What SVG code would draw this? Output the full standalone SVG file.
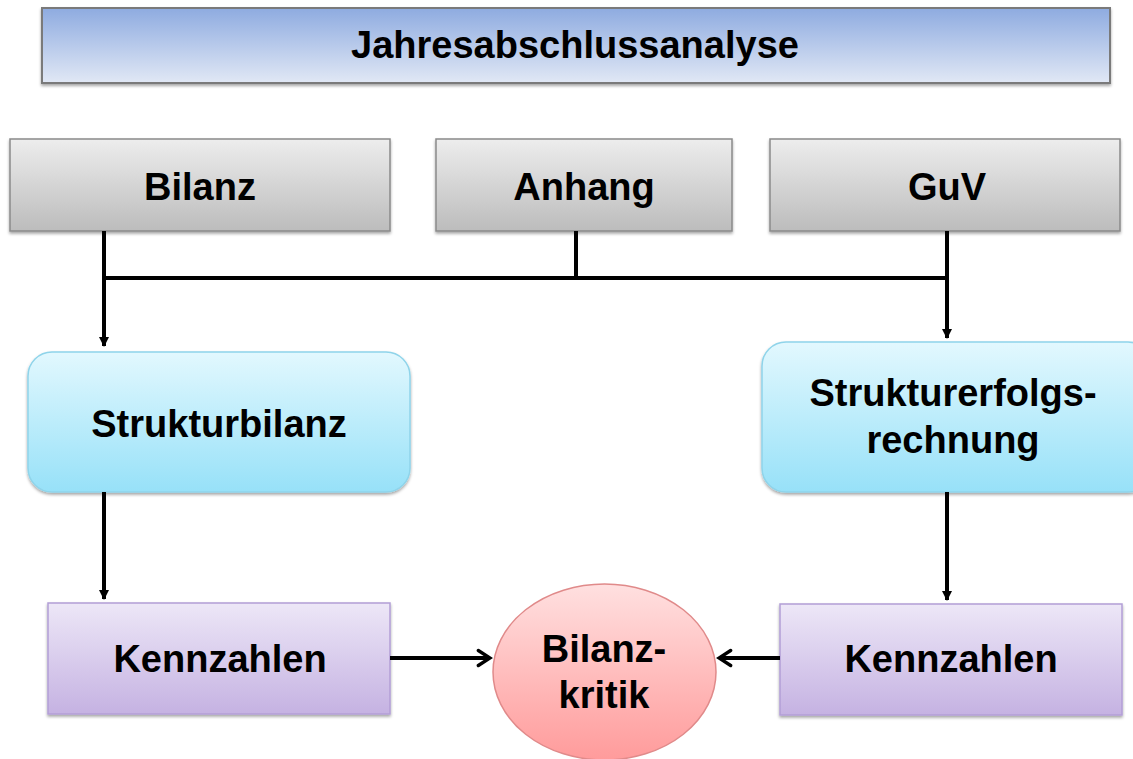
<svg xmlns="http://www.w3.org/2000/svg" width="1133" height="759" viewBox="0 0 1133 759">
<defs>
<linearGradient id="gTitle" x1="0" y1="0" x2="0" y2="1"><stop offset="0" stop-color="#8eabe0"/><stop offset="1" stop-color="#e1e8f5"/></linearGradient>
<linearGradient id="gGray" x1="0" y1="0" x2="0" y2="1"><stop offset="0" stop-color="#ededed"/><stop offset="1" stop-color="#bcbcbc"/></linearGradient>
<linearGradient id="gCyan" x1="0" y1="0" x2="0" y2="1"><stop offset="0" stop-color="#e2f8fe"/><stop offset="1" stop-color="#97e1f8"/></linearGradient>
<linearGradient id="gPurple" x1="0" y1="0" x2="0" y2="1"><stop offset="0" stop-color="#ede7f7"/><stop offset="1" stop-color="#c5b2e2"/></linearGradient>
<linearGradient id="gRed" x1="0" y1="0" x2="0" y2="1"><stop offset="0" stop-color="#ffe0e0"/><stop offset="1" stop-color="#ff9b9b"/></linearGradient>
<filter id="sh" x="-10%" y="-10%" width="120%" height="130%"><feDropShadow dx="0" dy="2" stdDeviation="1.5" flood-color="#000" flood-opacity="0.35"/></filter>
<marker id="ah" viewBox="0 0 12 12" refX="10" refY="6" markerWidth="5" markerHeight="5" orient="auto" markerUnits="strokeWidth">
<path d="M3,1.5 L10,6 L3,10.5" fill="none" stroke="#000" stroke-width="2" stroke-linecap="round" stroke-linejoin="miter"/>
</marker>
<marker id="ahs" viewBox="0 0 12 12" refX="10" refY="6" markerWidth="3" markerHeight="3" orient="auto" markerUnits="strokeWidth">
<path d="M1,1 L11,6 L1,11 Z" fill="#000"/>
</marker>
</defs>
<style>
text{font-family:"Liberation Sans",Arial,sans-serif;font-weight:bold;font-size:38px;fill:#000;text-anchor:middle}
.conn{stroke:#000;stroke-width:4;fill:none}
</style>

<g id="title"><rect x="42" y="8" width="1068" height="75" fill="url(#gTitle)" stroke="#7a7a7a" stroke-width="2" filter="url(#sh)"/><text x="575" y="58">Jahresabschlussanalyse</text></g>

<g id="bilanz"><rect x="10" y="139" width="380" height="92" fill="url(#gGray)" stroke="#8a8a8a" stroke-width="1.5" filter="url(#sh)"/><text x="200" y="200">Bilanz</text></g>
<g id="anhang"><rect x="436" y="139" width="296" height="92" fill="url(#gGray)" stroke="#8a8a8a" stroke-width="1.5" filter="url(#sh)"/><text x="584" y="200">Anhang</text></g>
<g id="guv"><rect x="770" y="139" width="350" height="92" fill="url(#gGray)" stroke="#8a8a8a" stroke-width="1.5" filter="url(#sh)"/><text x="947" y="200">GuV</text></g>

<g id="strukturbilanz"><rect x="28" y="352" width="382" height="140" rx="24" fill="url(#gCyan)" stroke="#8fd4ea" stroke-width="1.5" filter="url(#sh)"/><text x="219" y="437">Strukturbilanz</text></g>
<g id="strukturerfolgsrechnung"><rect x="762" y="342" width="390" height="150" rx="24" fill="url(#gCyan)" stroke="#8fd4ea" stroke-width="1.5" filter="url(#sh)"/><text x="953" y="406">Strukturerfolgs-</text><text x="953" y="453">rechnung</text></g>

<g id="kennzahlen-links"><rect x="48" y="603" width="342" height="111" fill="url(#gPurple)" stroke="#b39ed6" stroke-width="1.5" filter="url(#sh)"/><text x="220" y="672">Kennzahlen</text></g>
<g id="kennzahlen-rechts"><rect x="780" y="604" width="342" height="111" fill="url(#gPurple)" stroke="#b39ed6" stroke-width="1.5" filter="url(#sh)"/><text x="951" y="672">Kennzahlen</text></g>

<g id="bilanzkritik"><ellipse cx="604.5" cy="672" rx="111.5" ry="88" fill="url(#gRed)" stroke="#e08a8a" stroke-width="1.5"/><text x="604" y="662">Bilanz-</text><text x="604" y="708">kritik</text></g>

<g id="connectors">
<path class="conn" d="M104,231 V278 H947"/>
<path class="conn" d="M576,231 V278"/>
<path class="conn" d="M104,278 V346" marker-end="url(#ahs)"/>
<path class="conn" d="M947,231 V338" marker-end="url(#ahs)"/>
<path class="conn" d="M104,492 V599" marker-end="url(#ahs)"/>
<path class="conn" d="M947,492 V600" marker-end="url(#ahs)"/>
<path class="conn" d="M390,658 H490" marker-end="url(#ah)"/>
<path class="conn" d="M780,658 H719" marker-end="url(#ah)"/>
</g>
</svg>
